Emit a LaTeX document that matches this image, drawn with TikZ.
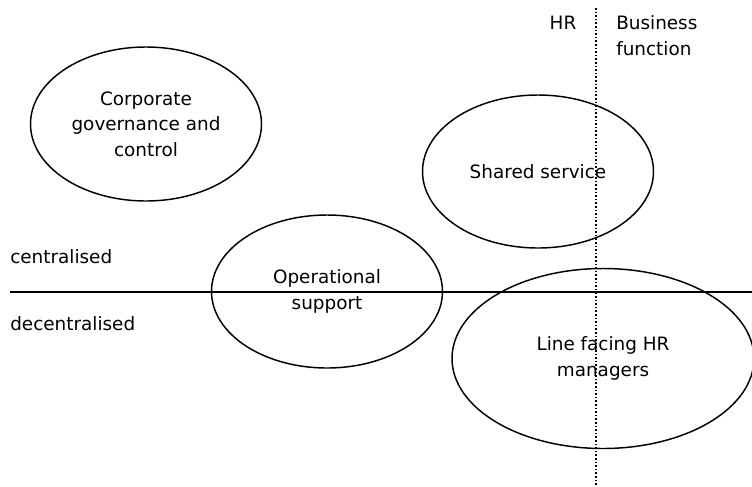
\documentclass[tikz,border=0pt]{standalone}
\usepackage{fontspec}
\setmainfont{DejaVu Sans}
\usetikzlibrary{shapes.geometric}
\begin{document}
\begin{tikzpicture}[x=0.75pt,y=-0.75pt,
  font=\fontsize{13.8}{19}\selectfont,
  oval/.style={ellipse,draw,line width=1.1pt,inner sep=0pt,align=center},
  lbl/.style={inner sep=0pt,align=left},
  axis/.style={line width=1.4pt},
  divider/.style={line width=1pt,dash pattern=on 1.2pt off 1.5pt}]
\useasboundingbox (0,0) rectangle (752,486);
% divider and axis
\coordinate (dtop) at (596,8);
\coordinate (dbot) at (596,486);
\coordinate (hl) at (10,292);
\coordinate (hr) at (752,292);
\draw[axis] (hl) -- (hr);
\draw[divider] (dtop) -- (dbot);
% ellipses
\node[oval,minimum width=173.25pt,minimum height=115.5pt] (corp) at (146,124) {Corporate\\governance and\\control};
\node[oval,minimum width=173.25pt,minimum height=114.75pt] (shared) at (538,171.5) {Shared service};
\node[oval,minimum width=173.25pt,minimum height=114.75pt] (ops) at (327,291.5) {Operational\\support};
\node[oval,minimum width=226.5pt,minimum height=135pt] (line) at (603,358.5) {Line facing HR\\managers};
% labels
\node[lbl,anchor=west] (cen) at (10,257) {centralised};
\node[lbl,anchor=west] (dec) at (10,324) {decentralised};
\node[lbl] (hrl) at (563,23) {HR};
\node[lbl,anchor=west] (bus) at (616,35.5) {Business\\function};
\end{tikzpicture}
\end{document}
